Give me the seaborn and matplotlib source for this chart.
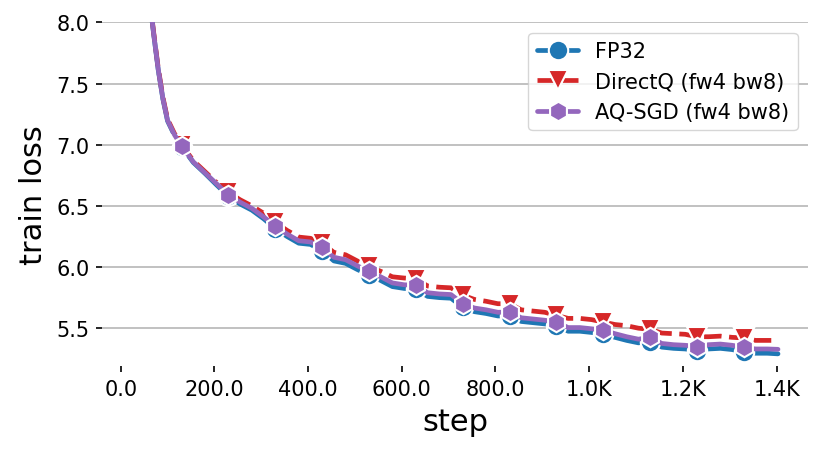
import matplotlib
matplotlib.use("Agg")
import matplotlib.pyplot as plt
import seaborn as sns
import pandas as pd

# ---- data -------------------------------------------------------------
steps = [10, 20, 30, 40, 50, 60, 70, 80, 90, 100, 115, 130,
         155, 180, 205, 230, 255, 280, 305, 330, 355, 380, 405, 430,
         455, 480, 505, 530, 555, 580, 605, 630, 655, 680, 705, 730,
         755, 780, 805, 830, 855, 880, 905, 930, 955, 980, 1005, 1030,
         1055, 1080, 1105, 1130, 1155, 1180, 1205, 1230, 1255, 1280, 1305, 1330,
         1355, 1380, 1403]

fp32 = [11.2, 10.3, 9.6, 9.1, 8.7, 8.245, 7.915, 7.615, 7.375, 7.195, 7.075, 6.985,
        6.855, 6.765, 6.67, 6.58, 6.515, 6.465, 6.395, 6.315, 6.25, 6.195, 6.185, 6.135,
        6.05, 6.03, 5.98, 5.935, 5.89, 5.84, 5.825, 5.82, 5.76, 5.75, 5.745, 5.67,
        5.635, 5.62, 5.60, 5.60, 5.555, 5.545, 5.535, 5.52, 5.475, 5.475, 5.465, 5.45,
        5.425, 5.40, 5.38, 5.39, 5.345, 5.335, 5.33, 5.315, 5.33, 5.335, 5.325, 5.305,
        5.295, 5.295, 5.29]

directq = [11.2, 10.3, 9.6, 9.1, 8.7, 8.26, 7.93, 7.63, 7.39, 7.21, 7.09, 7.00,
           6.87, 6.78, 6.69, 6.61, 6.55, 6.50, 6.44, 6.365, 6.30, 6.245, 6.235, 6.195,
           6.12, 6.10, 6.05, 6.005, 5.965, 5.92, 5.91, 5.905, 5.845, 5.835, 5.83, 5.77,
           5.735, 5.72, 5.70, 5.70, 5.65, 5.64, 5.63, 5.605, 5.58, 5.58, 5.57, 5.55,
           5.53, 5.52, 5.50, 5.49, 5.46, 5.455, 5.45, 5.43, 5.43, 5.435, 5.425, 5.42,
           5.40, 5.40, 5.40]

aqsgd = [11.2, 10.3, 9.6, 9.1, 8.7, 8.25, 7.92, 7.62, 7.38, 7.20, 7.08, 6.99,
         6.86, 6.77, 6.68, 6.59, 6.53, 6.48, 6.41, 6.335, 6.27, 6.215, 6.205, 6.16,
         6.08, 6.06, 6.01, 5.965, 5.92, 5.87, 5.855, 5.85, 5.79, 5.78, 5.775, 5.70,
         5.665, 5.65, 5.63, 5.632, 5.585, 5.575, 5.565, 5.55, 5.505, 5.505, 5.495, 5.484,
         5.455, 5.43, 5.41, 5.425, 5.375, 5.365, 5.36, 5.35, 5.365, 5.37, 5.36, 5.343,
         5.33, 5.33, 5.327]

marker_steps = [130, 230, 330, 430, 530, 630, 730, 830, 930, 1030, 1130, 1230, 1330]

series_names = ["FP32", "DirectQ (fw4 bw8)", "AQ-SGD (fw4 bw8)"]

xtick_values = [0, 200, 400, 600, 800, 1000, 1200, 1400]
xtick_labels = ["0.0", "200.0", "400.0", "600.0", "800.0", "1.0K", "1.2K", "1.4K"]
ytick_values = [5.5, 6.0, 6.5, 7.0, 7.5, 8.0]
ytick_labels = ["5.5", "6.0", "6.5", "7.0", "7.5", "8.0"]

# ---- plot -------------------------------------------------------------
sns.set_theme(style="ticks")
plt.rcParams["font.family"] = ["DejaVu Sans"]
plt.rcParams["text.color"] = "black"
plt.rcParams["axes.labelcolor"] = "black"
plt.rcParams["xtick.color"] = "black"
plt.rcParams["ytick.color"] = "black"

fig = plt.figure(figsize=(8.31, 4.56), dpi=100)
ax = fig.add_axes([0.1227, 0.195, 0.8496, 0.7535])

markidx = [steps.index(s) for s in marker_steps]
df = pd.DataFrame({"step": steps, series_names[0]: fp32,
                   series_names[1]: directq, series_names[2]: aqsgd})

styles = [
    dict(color="#1f77b4", linestyle="-", marker="o"),
    dict(color="#d62728", linestyle="--", marker="v"),
    dict(color="#9467bd", linestyle="-", marker="h"),
]

for name, st in zip(series_names, styles):
    sns.lineplot(data=df, x="step", y=name, ax=ax, label=name,
                 linewidth=3.4, markersize=14, markevery=markidx,
                 markeredgecolor="white", markeredgewidth=1.5, **st)

ax.set_xlim(-40, 1467)
ax.set_ylim(5.19, 8.0)
ax.set_xticks(xtick_values)
ax.set_xticklabels(xtick_labels)
ax.set_yticks(ytick_values)
ax.set_yticklabels(ytick_labels)
ax.tick_params(axis="both", labelsize=15, length=4, width=1.2,
               color="black", labelcolor="black", pad=5)

ax.grid(axis="y", color="#b0b0b0", linewidth=1.1)
ax.grid(axis="x", visible=False)
ax.set_axisbelow(True)
for sp in ax.spines.values():
    sp.set_visible(False)

ax.set_xlabel("step", fontsize=22, labelpad=6, color="black")
ax.set_ylabel("train loss", fontsize=22, labelpad=6, color="black")

leg = ax.legend(loc="upper right", fontsize=15, frameon=True)
leg.get_frame().set_edgecolor("#cccccc")
for t in leg.get_texts():
    t.set_color("black")

fig.savefig("out.png", dpi=100)
